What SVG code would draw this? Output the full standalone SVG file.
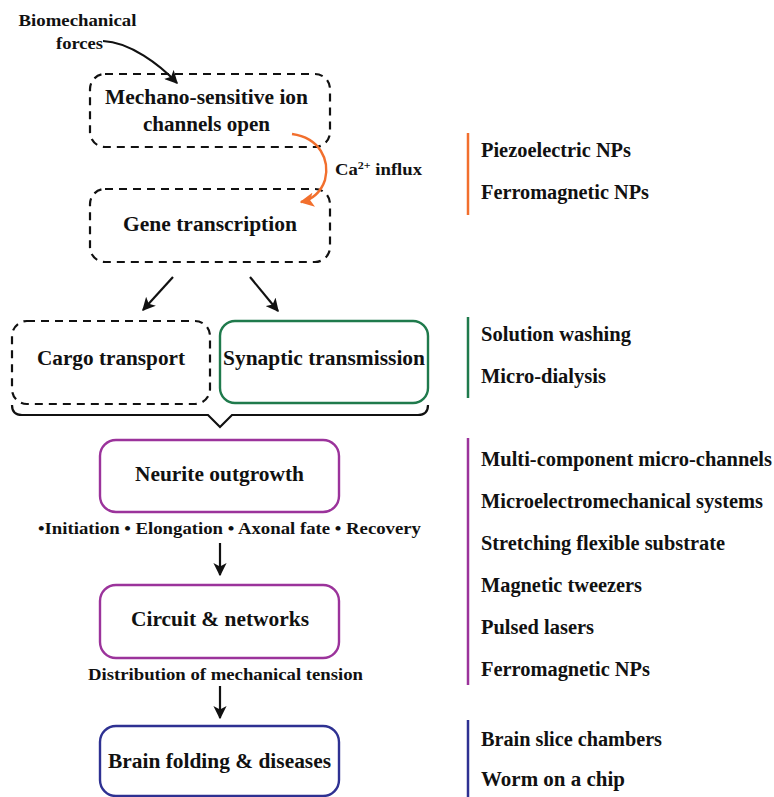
<svg xmlns="http://www.w3.org/2000/svg" width="774" height="797" viewBox="0 0 774 797">
<style>
text{font-family:"Liberation Serif","Times New Roman",serif;font-weight:bold;fill:#111}
.bt{font-size:20.5px;text-anchor:middle}
.rt{font-size:20px}
.lb{font-size:17px}
.ml{font-size:16.5px;text-anchor:middle}
.dash{fill:none;stroke:#111;stroke-width:2.2;stroke-dasharray:8 6}
.solid{fill:none;stroke-width:2.4}
.conn{fill:none;stroke:#111;stroke-width:2.2}
</style>
<defs>
<marker id="ah" viewBox="0 0 10 10" refX="9" refY="5" markerWidth="6" markerHeight="6" orient="auto" markerUnits="strokeWidth">
<path d="M0,0 L10,5 L0,10 L2.5,5 Z" fill="#111"/>
</marker>
<marker id="aho" viewBox="0 0 10 10" refX="9" refY="5" markerWidth="6" markerHeight="6" orient="auto" markerUnits="strokeWidth">
<path d="M0,0 L10,5 L0,10 L2.5,5 Z" fill="#f26f2d"/>
</marker>
</defs>
<rect width="774" height="797" fill="#fff"/>

<g id="label-forces">
<text class="lb" x="77.5" y="26" text-anchor="middle" textLength="118" lengthAdjust="spacingAndGlyphs">Biomechanical</text>
<text class="lb" x="79.5" y="49" text-anchor="middle" textLength="47" lengthAdjust="spacingAndGlyphs">forces</text>
</g>

<g id="node-ion">
<rect class="dash" x="90" y="74" width="240" height="73" rx="15"/>
<text class="bt" x="206.5" y="104" textLength="203" lengthAdjust="spacingAndGlyphs">Mechano-sensitive ion</text>
<text class="bt" x="206.5" y="131" textLength="127" lengthAdjust="spacingAndGlyphs">channels open</text>
</g>

<g id="node-gene">
<rect class="dash" x="90" y="189" width="240" height="73" rx="15"/>
<text class="bt" x="210" y="231" textLength="174" lengthAdjust="spacingAndGlyphs">Gene transcription</text>
</g>

<g id="node-cargo">
<rect class="dash" x="12" y="321" width="198" height="83" rx="15"/>
<text class="bt" x="111" y="365" textLength="148" lengthAdjust="spacingAndGlyphs">Cargo transport</text>
</g>

<g id="node-synaptic">
<rect class="solid" x="220" y="321" width="208" height="82" rx="15" stroke="#1f7a4c"/>
<text class="bt" x="324" y="365" textLength="202" lengthAdjust="spacingAndGlyphs">Synaptic transmission</text>
</g>

<g id="node-neurite">
<rect class="solid" x="100" y="440" width="239" height="72" rx="16" stroke="#9b339b"/>
<text class="bt" x="219.5" y="481" textLength="169" lengthAdjust="spacingAndGlyphs">Neurite outgrowth</text>
</g>

<g id="node-circuit">
<rect class="solid" x="100" y="585" width="239" height="73" rx="16" stroke="#9b339b"/>
<text class="bt" x="220" y="626" textLength="178" lengthAdjust="spacingAndGlyphs">Circuit &amp; networks</text>
</g>

<g id="node-brain">
<rect class="solid" x="100" y="726" width="239" height="70" rx="16" stroke="#2e3192"/>
<text class="bt" x="219.5" y="768" textLength="223" lengthAdjust="spacingAndGlyphs">Brain folding &amp; diseases</text>
</g>

<g id="labels">
<text class="lb" x="335" y="175" textLength="87" lengthAdjust="spacingAndGlyphs">Ca<tspan font-size="11" dy="-6">2+</tspan><tspan dy="6"> influx</tspan></text>
<text class="ml" x="229.5" y="534" textLength="383" lengthAdjust="spacingAndGlyphs">•Initiation • Elongation • Axonal fate • Recovery</text>
<text class="ml" x="225.5" y="680" textLength="275" lengthAdjust="spacingAndGlyphs">Distribution of mechanical tension</text>
</g>

<g id="connectors">
<path class="conn" d="M103,41 C130,42 160,65 177,83" marker-end="url(#ah)"/>
<path d="M292,134 C320,138 330,160 325,180 C321,192 312,200 301,202" fill="none" stroke="#f26f2d" stroke-width="2.4" marker-end="url(#aho)"/>
<path class="conn" d="M173,277 L143,310" marker-end="url(#ah)"/>
<path class="conn" d="M250,277 L278,311" marker-end="url(#ah)"/>
<path class="conn" d="M12,405 Q12,415 22,415 L208,415 L220,427 L232,415 L418,415 Q428,415 428,405"/>
<path class="conn" d="M220,543 L220,575" marker-end="url(#ah)"/>
<path class="conn" d="M220,686 L220,718" marker-end="url(#ah)"/>
</g>

<g id="side-lists">
<line x1="468" y1="133" x2="468" y2="215" stroke="#f26f2d" stroke-width="2.5"/>
<text class="rt" x="481" y="157" textLength="150" lengthAdjust="spacingAndGlyphs">Piezoelectric NPs</text>
<text class="rt" x="481" y="199" textLength="168" lengthAdjust="spacingAndGlyphs">Ferromagnetic NPs</text>
<line x1="468" y1="317" x2="468" y2="398" stroke="#1f7a4c" stroke-width="2.5"/>
<text class="rt" x="481" y="341" textLength="150" lengthAdjust="spacingAndGlyphs">Solution washing</text>
<text class="rt" x="481" y="383" textLength="125" lengthAdjust="spacingAndGlyphs">Micro-dialysis</text>
<line x1="468" y1="438" x2="468" y2="685" stroke="#9b339b" stroke-width="2.5"/>
<text class="rt" x="481" y="466" textLength="291" lengthAdjust="spacingAndGlyphs">Multi-component micro-channels</text>
<text class="rt" x="481" y="508" textLength="282" lengthAdjust="spacingAndGlyphs">Microelectromechanical systems</text>
<text class="rt" x="481" y="550" textLength="244" lengthAdjust="spacingAndGlyphs">Stretching flexible substrate</text>
<text class="rt" x="481" y="592" textLength="161" lengthAdjust="spacingAndGlyphs">Magnetic tweezers</text>
<text class="rt" x="481" y="634" textLength="113" lengthAdjust="spacingAndGlyphs">Pulsed lasers</text>
<text class="rt" x="481" y="676" textLength="169" lengthAdjust="spacingAndGlyphs">Ferromagnetic NPs</text>
<line x1="468" y1="720" x2="468" y2="797" stroke="#2e3192" stroke-width="2.5"/>
<text class="rt" x="481" y="746" textLength="181" lengthAdjust="spacingAndGlyphs">Brain slice chambers</text>
<text class="rt" x="481" y="786" textLength="144" lengthAdjust="spacingAndGlyphs">Worm on a chip</text>
</g>
</svg>
